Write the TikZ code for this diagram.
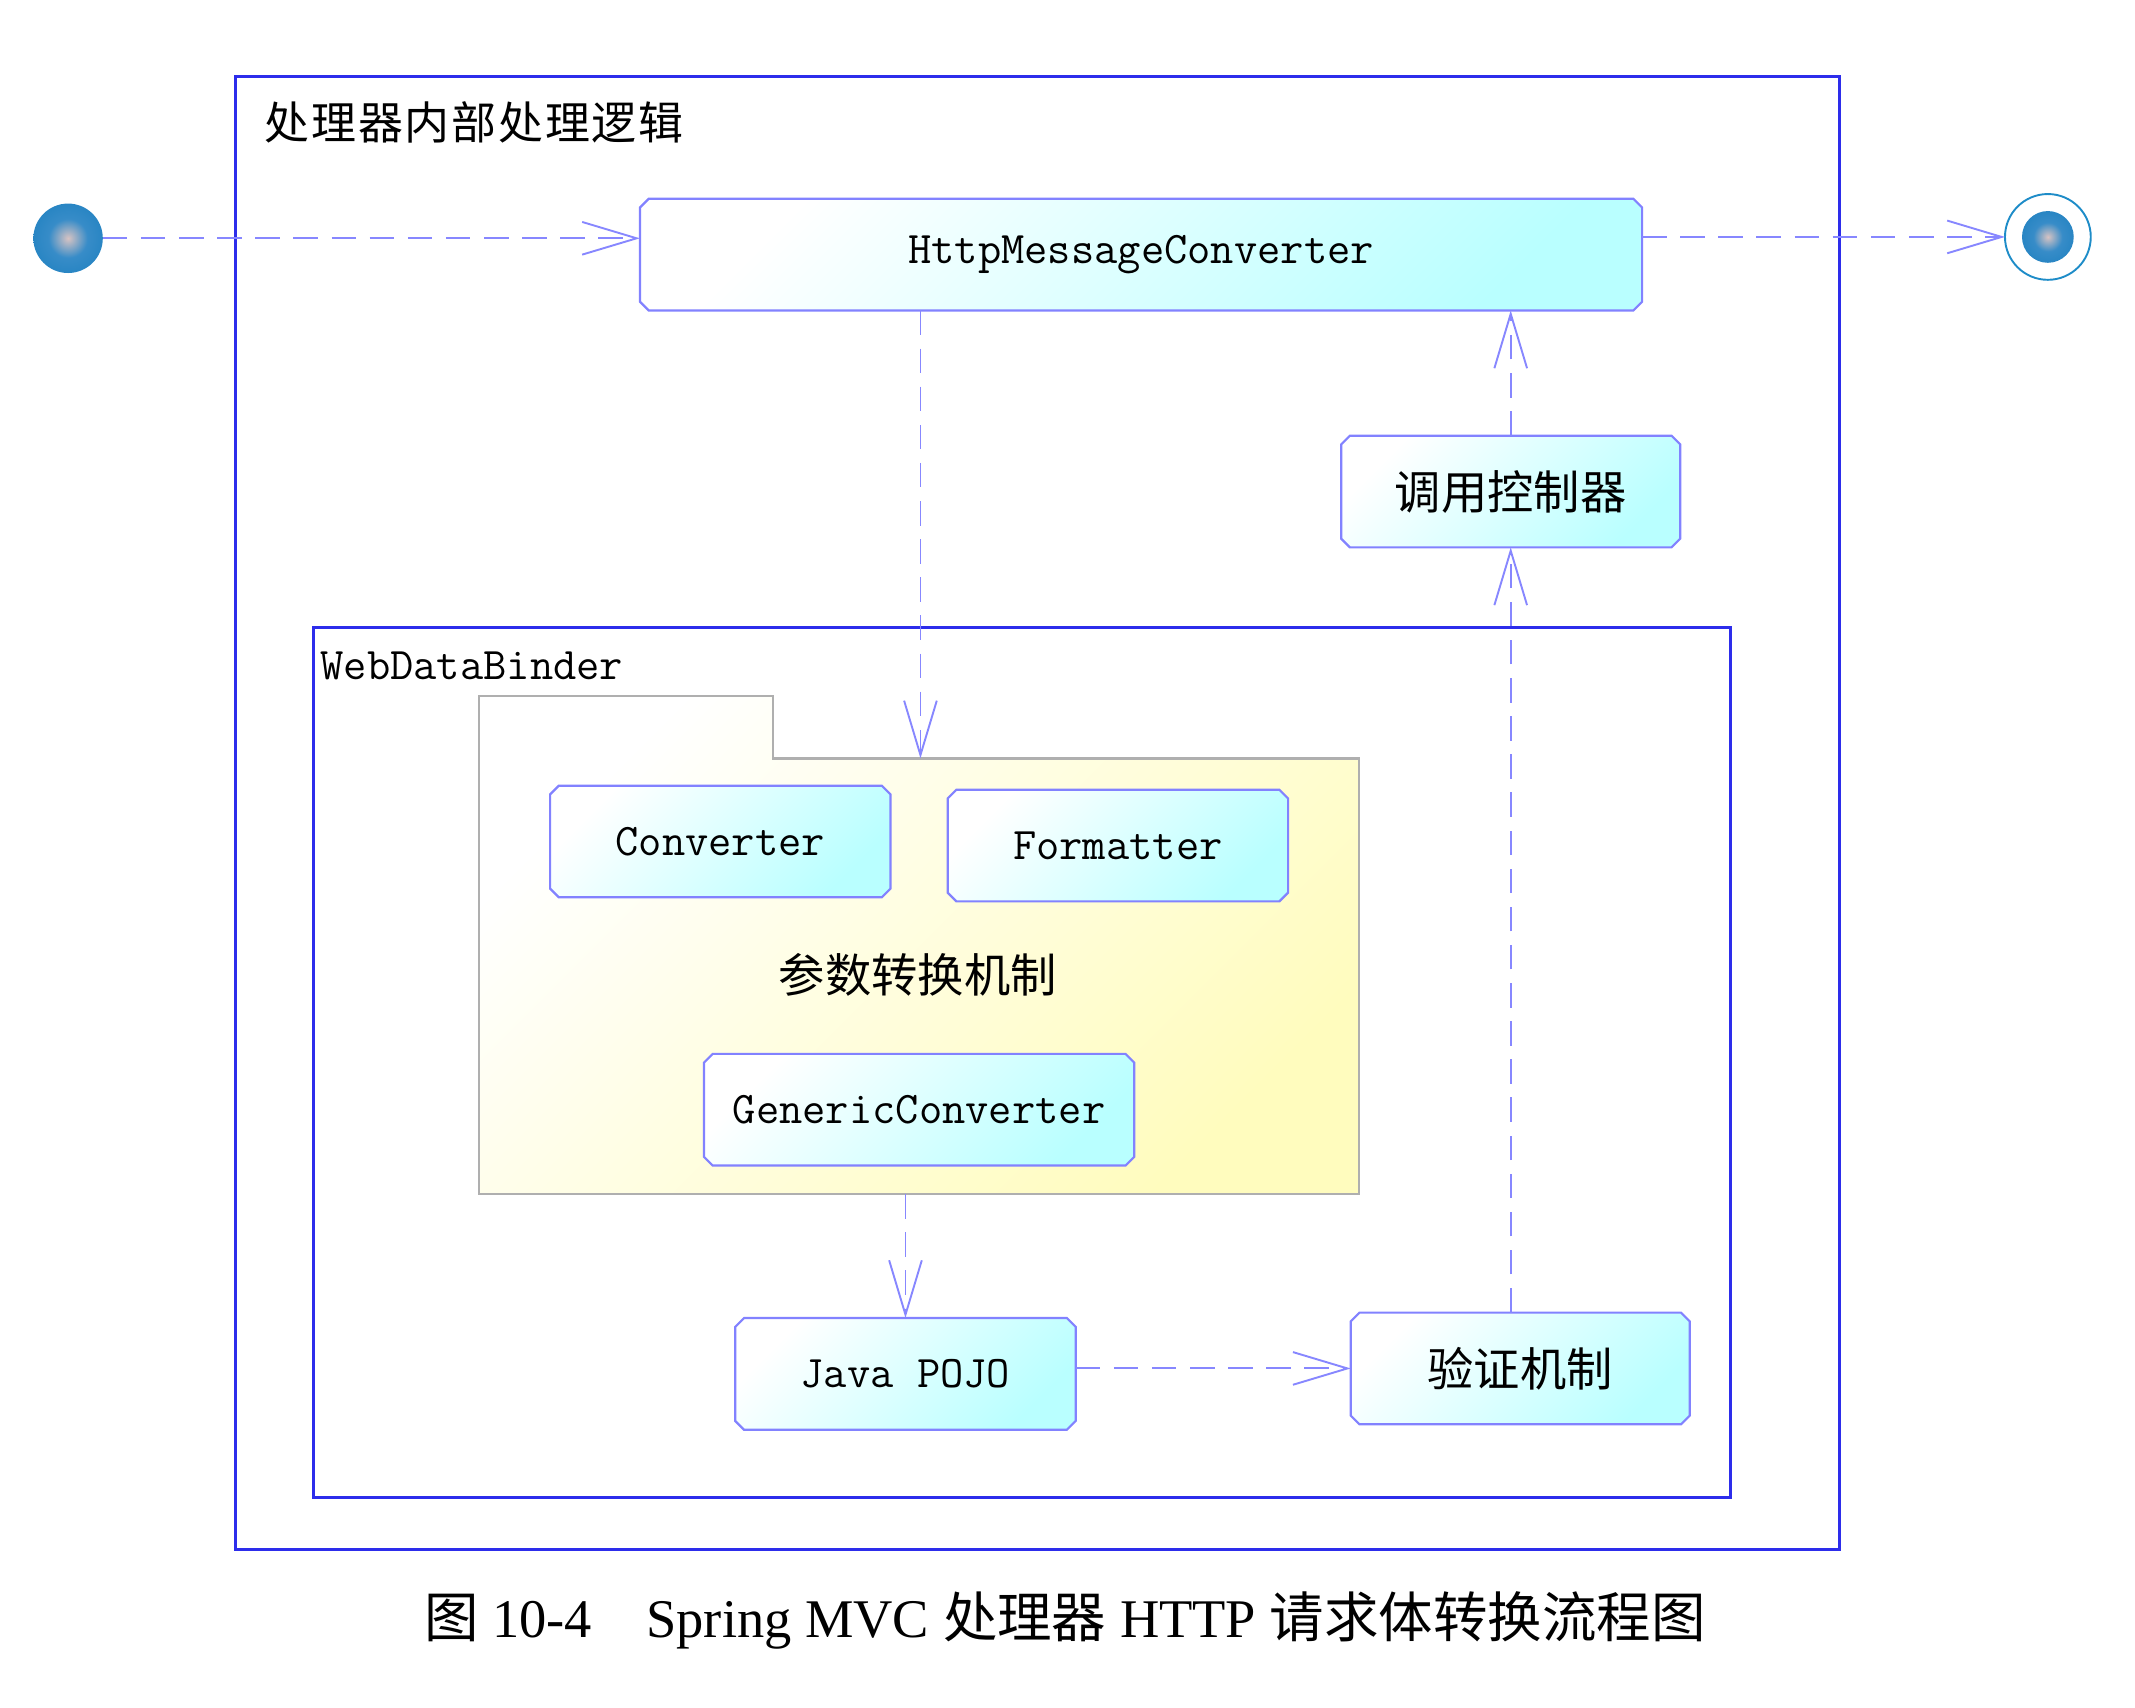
\documentclass[tikz,border=0pt]{standalone}
\usepackage{fontspec}
\setmainfont{Liberation Serif}
\newfontfamily\cjk{Noto Sans CJK SC}
\usetikzlibrary{shapes.misc,arrows.meta}
\definecolor{frameblue}{RGB}{45,45,235}
\definecolor{linkc}{RGB}{135,135,255}
\definecolor{boxedge}{RGB}{130,130,255}
\definecolor{boxfill}{RGB}{185,255,255}
\definecolor{pkgedge}{RGB}{175,175,175}
\definecolor{pkgfill}{RGB}{255,252,190}
\definecolor{ballin}{RGB}{215,195,195}
\definecolor{ballmid}{RGB}{55,140,200}
\definecolor{ballout}{RGB}{8,118,185}
\definecolor{ringc}{RGB}{30,140,200}
\pgfdeclareradialshading{ballshade}{\pgfpoint{0bp}{0bp}}{color(0bp)=(ballin); color(14bp)=(ballmid); color(50bp)=(ballout)}
\newcommand\monof{\ttfamily\fontsize{16.6pt}{18pt}\selectfont}
\newcommand\cjkf{\cjk\fontsize{17pt}{19pt}\selectfont}
\begin{document}
\begin{tikzpicture}[x=0.5pt,y=-0.5pt,
  box/.style={shape=chamfered rectangle, chamfered rectangle xsep=1.6pt, chamfered rectangle ysep=1.6pt,
    draw=boxedge, line width=0.8pt, top color=white, bottom color=boxfill, shading angle=45,
    inner sep=0pt, outer sep=0pt, minimum height=41pt},
  link/.style={draw=linkc, line width=0.7pt, dash pattern=on 9pt off 5pt,
    -{Straight Barb[length=20pt,width=12pt]}},
  frame/.style={draw=frameblue, line width=1pt},
  ball/.style={circle, shade, shading=ballshade, inner sep=0pt, outer sep=0pt}]
\useasboundingbox (0,0) rectangle (1568,1254);

% frames
\draw[frame] (173,56) rectangle (1351,1138);
\node[anchor=west, inner sep=0pt, font=\cjk\fontsize{16.5pt}{18pt}\selectfont\addfontfeature{LetterSpace=4}] (title) at (194,90) {处理器内部处理逻辑};
\draw[frame] (230,461) rectangle (1271,1100);
\node[anchor=base west, inner sep=0pt, font=\monof] (wdb) at (235,499) {WebDataBinder};

% package
\path[draw=pkgedge, line width=0.8pt, top color=white, bottom color=pkgfill, shading angle=45]
  (352,877) -- (352,511) -- (568,511) -- (568,557) -- (998,557) -- (998,877) -- cycle;
\coordinate (pkgin) at (676,557);
\coordinate (pkgout) at (665,877);
\node[font=\cjkf, inner sep=0pt] (pkglabel) at (674,716) {参数转换机制};

% start / end
\node[ball, minimum size=25.5pt] (start) at (50,175) {};
\node[circle, draw=ringc, line width=0.7pt, minimum size=31.5pt, inner sep=0pt, outer sep=0pt] (end) at (1504,174) {};
\node[ball, minimum size=19pt] (endball) at (end) {};

% boxes
\node[box, minimum width=368pt, font=\monof] (hmc) at (838,187) {HttpMessageConverter};
\node[box, minimum width=124.5pt, font=\cjkf] (ctrl) at (1109.5,361) {调用控制器};
\node[box, minimum width=125pt, font=\monof] (conv) at (529,618) {Converter};
\node[box, minimum width=125pt, font=\monof] (fmt) at (821,621) {Formatter};
\node[box, minimum width=158pt, font=\monof] (gen) at (675,815) {GenericConverter};
\node[box, minimum width=125pt, font=\monof] (pojo) at (665,1009) {Java POJO};
\node[box, minimum width=124.5pt, font=\cjkf] (valid) at (1116.5,1005) {验证机制};

% connectors
\draw[link] (start) -- (start -| hmc.west);
\draw[link] (end -| hmc.east) -- (end.west);
\draw[link] (ctrl.north) -- (ctrl.north |- hmc.south);
\draw[link] (ctrl.south |- valid.north) -- (ctrl.south);
\draw[link] (hmc.south -| pkgin) -- (pkgin);
\draw[link] (pkgout) -- (pojo.north);
\draw[link] (valid.west -| pojo.east) -- (valid.west);

% caption
\node[font=\fontsize{20pt}{24pt}\selectfont, inner sep=0pt] (cap) at (782,1190)
  {{\cjk 图} 10-4\hspace{1em}Spring MVC {\cjk 处理器} HTTP {\cjk 请求体转换流程图}};
\end{tikzpicture}
\end{document}
